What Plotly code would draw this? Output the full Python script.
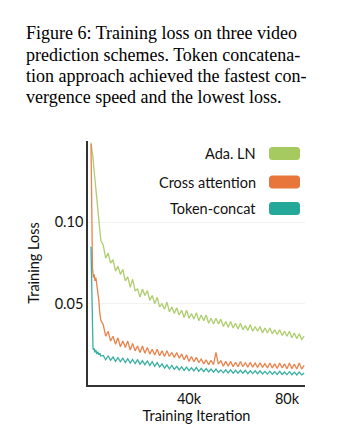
import plotly.graph_objects as go

# ---------------- data ----------------
iter_early = [0, 200, 400, 600, 800, 1000, 1300, 1600, 2000, 2400, 2800, 3200, 3600, 4000]
iterations = iter_early + list(range(5000, 87001, 1000))

ada_ln = [0.149, 0.147, 0.146, 0.143, 0.140, 0.136, 0.131, 0.127, 0.122, 0.114, 0.106, 0.099, 0.093, 0.089,
          0.086, 0.078, 0.081, 0.075, 0.077, 0.070, 0.073, 0.068, 0.071, 0.064,
          0.0665, 0.060, 0.065, 0.058, 0.059, 0.054, 0.059, 0.055, 0.058, 0.052,
          0.055, 0.050, 0.054, 0.048, 0.050, 0.0465, 0.051, 0.045, 0.048, 0.044,
          0.0475, 0.043, 0.046, 0.0415, 0.046, 0.041, 0.044, 0.0405, 0.0445, 0.0395,
          0.043, 0.0395, 0.043, 0.038, 0.041, 0.0375, 0.041, 0.0375, 0.0405, 0.036,
          0.039, 0.0355, 0.039, 0.035, 0.038, 0.0345, 0.038, 0.034, 0.0365, 0.0335,
          0.037, 0.033, 0.036, 0.033, 0.036, 0.032, 0.035, 0.032, 0.035, 0.0315,
          0.034, 0.031, 0.034, 0.0305, 0.033, 0.030, 0.033, 0.029, 0.032, 0.0285,
          0.0315, 0.028, 0.030]

cross_attention = [0.148, 0.110, 0.080, 0.072, 0.069, 0.066, 0.068, 0.064, 0.066, 0.062, 0.059, 0.052, 0.044, 0.040,
                   0.037, 0.030, 0.033, 0.027, 0.030, 0.025, 0.029, 0.0235, 0.027, 0.023,
                   0.027, 0.0215, 0.0255, 0.021, 0.024, 0.020, 0.024, 0.0195, 0.023, 0.019,
                   0.022, 0.0185, 0.022, 0.018, 0.021, 0.0175, 0.021, 0.0175, 0.020, 0.017,
                   0.020, 0.0165, 0.019, 0.0155, 0.0185, 0.0145, 0.0175, 0.0143, 0.017, 0.0138,
                   0.016, 0.013, 0.0155, 0.0125, 0.0152, 0.0125, 0.020, 0.0128, 0.015, 0.0115,
                   0.0145, 0.0115, 0.0145, 0.0112, 0.014, 0.0112, 0.0145, 0.0112, 0.0137, 0.011,
                   0.014, 0.011, 0.0135, 0.0108, 0.0137, 0.0108, 0.0132, 0.0105, 0.0135, 0.0105,
                   0.013, 0.0102, 0.0135, 0.0105, 0.013, 0.010, 0.0135, 0.010, 0.0128, 0.0098,
                   0.0135, 0.0098, 0.012]

token_concat = [0.085, 0.060, 0.038, 0.027, 0.023, 0.0215, 0.0225, 0.020, 0.0215, 0.019, 0.0205, 0.0185, 0.0195, 0.0178,
                0.0182, 0.0155, 0.018, 0.0152, 0.0172, 0.0145, 0.0168, 0.0144, 0.0165, 0.0138,
                0.0162, 0.0135, 0.0157, 0.0132, 0.0155, 0.0128, 0.015, 0.0125, 0.0148, 0.012,
                0.0143, 0.0115, 0.0138, 0.011, 0.013, 0.0104, 0.0123, 0.0099, 0.012, 0.0096,
                0.0115, 0.0093, 0.0112, 0.009, 0.011, 0.0088, 0.0106, 0.0086, 0.0108, 0.0084,
                0.0102, 0.0082, 0.0101, 0.008, 0.0098, 0.0079, 0.0098, 0.0077, 0.0093, 0.0075,
                0.0093, 0.0074, 0.0093, 0.0073, 0.009, 0.0072, 0.009, 0.0072, 0.009, 0.007,
                0.0087, 0.007, 0.0087, 0.0069, 0.0087, 0.0068, 0.0084, 0.0067, 0.0085, 0.0066,
                0.0082, 0.0065, 0.0084, 0.0065, 0.008, 0.0064, 0.0082, 0.0063, 0.0079, 0.0062,
                0.008, 0.0062, 0.0073]

series_names = ["Ada. LN", "Cross attention", "Token-concat"]
series_values = [ada_ln, cross_attention, token_concat]
colors = ["#a6c960", "#e8763a", "#24a899"]

x_ticks = [40000, 80000]
x_tick_labels = ["40k", "80k"]
y_ticks = [0.05, 0.10]
y_tick_labels = ["0.05", "0.10"]

caption_lines = ["Figure 6: Training loss on three video",
                 "prediction schemes. Token concatena-",
                 "tion approach achieved the fastest con-",
                 "vergence speed and the lowest loss."]

# ---------------- figure ----------------
W, H = 362, 434
ML, MR, MT, MB = 80, 65, 133, 57
PW, PH = W - ML - MR, H - MT - MB

fig = go.Figure()
for name, vals, col in zip(series_names, series_values, colors):
    fig.add_trace(go.Scatter(x=iterations, y=vals, mode="lines", name=name,
                             line=dict(color=col, width=1.3), opacity=0.9,
                             showlegend=False))

sans = "Lato, 'Open Sans', sans-serif"

def px2paper(px, py):
    return (px - ML) / PW, (H - MB - py) / PH

def rounded_rect(x0, y0, x1, y1, r):
    def P(px, py):
        a, b = px2paper(px, py)
        return f"{a:.5f},{b:.5f}"
    return (f"M {P(x0 + r, y0)} L {P(x1 - r, y0)} Q {P(x1, y0)} {P(x1, y0 + r)} "
            f"L {P(x1, y1 - r)} Q {P(x1, y1)} {P(x1 - r, y1)} "
            f"L {P(x0 + r, y1)} Q {P(x0, y1)} {P(x0, y1 - r)} "
            f"L {P(x0, y0 + r)} Q {P(x0, y0)} {P(x0 + r, y0)} Z")

legend_rows_y = [145.5, 174, 200.5]
annotations = []
shapes = []
for name, col, cy in zip(series_names, colors, legend_rows_y):
    ax, ay = px2paper(250, cy)
    annotations.append(dict(x=ax, y=ay, xref="paper", yref="paper", text=name,
                            showarrow=False, xanchor="right", yanchor="middle",
                            font=dict(family=sans, size=14.5, color="#111111")))
    shapes.append(dict(type="path", xref="paper", yref="paper",
                       path=rounded_rect(261, cy - 6.5, 292, cy + 6.5, 3.5),
                       fillcolor=col, line=dict(width=0), layer="above"))

for line, ly in zip(caption_lines, [25, 47, 68, 89]):
    cx, cy = px2paper(16, ly)
    annotations.append(dict(x=cx, y=cy, xref="paper", yref="paper", text=line,
                            showarrow=False, xanchor="left", yanchor="middle", align="left",
                            font=dict(family="'Liberation Serif', 'DejaVu Serif', serif",
                                      size=18, color="#000000")))

fig.update_layout(
    width=W, height=H,
    margin=dict(l=ML, r=MR, t=MT, b=MB, pad=0),
    paper_bgcolor="white", plot_bgcolor="white",
    font=dict(family=sans, size=14, color="#111111"),
    annotations=annotations, shapes=shapes,
    xaxis=dict(range=[-1225, 87350], tickvals=x_ticks, ticktext=x_tick_labels,
               showgrid=False, zeroline=False, showline=True, linecolor="#333333",
               linewidth=1.5, ticks="", tickfont=dict(size=14.5),
               title=dict(text="Training Iteration", standoff=2, font=dict(size=14.5))),
    yaxis=dict(range=[0, 0.15], tickvals=y_ticks, ticktext=y_tick_labels,
               showgrid=True, gridcolor="#f2f2f2", gridwidth=1,
               zeroline=False, showline=True, linecolor="#333333",
               linewidth=1.5, ticks="", tickfont=dict(size=14.5),
               title=dict(text="Training Loss", standoff=12, font=dict(size=14.5))),
)

fig.write_html("out.html")
